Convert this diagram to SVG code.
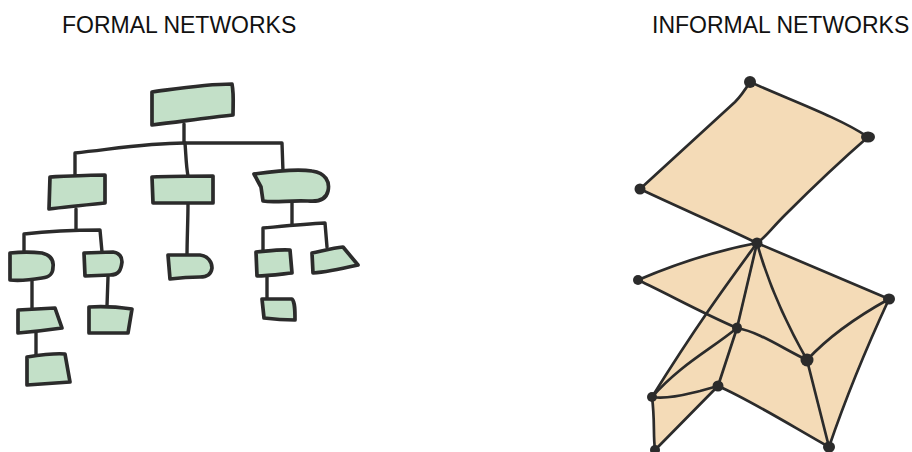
<svg xmlns="http://www.w3.org/2000/svg" width="912" height="452" viewBox="0 0 912 452">
<style>
.title{font-family:"Liberation Sans",Arial,sans-serif;font-size:23px;fill:#111}
.box{fill:#c3e0c8;stroke:#2b2b2b;stroke-width:3.7;stroke-linejoin:round;stroke-linecap:round}
.tree{fill:none;stroke:#2b2b2b;stroke-width:3.4;stroke-linejoin:round;stroke-linecap:round}
.face{fill:#f4dbb7;stroke:none}
.edge{fill:none;stroke:#2b2b2b;stroke-width:2.7;stroke-linecap:round;stroke-linejoin:round}
.dot{fill:#2b2b2b}
</style>
<rect width="912" height="452" fill="#ffffff"/>
<text class="title" x="62" y="33">FORMAL NETWORKS</text>
<text class="title" x="652" y="33">INFORMAL NETWORKS</text>

<g id="formal-connectors">
<path class="tree" d="M184,124 L184,143"/>
<path class="tree" d="M75,176 L75,153 C120,148 150,143 184,143 L282,143 L283,172"/>
<path class="tree" d="M185,143 C186,155 186,165 188,176"/>
<path class="tree" d="M76,209 L76,229"/>
<path class="tree" d="M24,253 L24,234 C50,231 75,230 100,230 L102,252"/>
<path class="tree" d="M188,203 C188,220 187,240 187,257"/>
<path class="tree" d="M292,202 L292,224"/>
<path class="tree" d="M263,251 L263,228 C285,226 305,224 325,223 L327,247"/>
<path class="tree" d="M32,280 L32,308"/>
<path class="tree" d="M108,277 L107,306"/>
<path class="tree" d="M267,276 L267,298"/>
<path class="tree" d="M36,333 L36,355"/>
</g>

<g id="f-root"><path class="box" d="M152,92 C175,89 205,84 232,84 C234,94 233,105 233,115 C205,118 178,122 152,125 Z"/></g>
<g id="f-l1"><path class="box" d="M50,177 C70,176 88,175 105,175 L105,203 C85,205 65,207 49,209 Z"/></g>
<g id="f-m1"><path class="box" d="M152,177 C172,176 195,176 213,176 L213,203 L153,203 Z"/></g>
<g id="f-r1"><path class="box" d="M254,174 C275,171 300,169 312,171 C326,173 330,182 328,191 C326,200 318,202 308,201 C290,200 275,203 263,201 L261,187 Z"/></g>
<g id="f-a"><path class="box" d="M10,253 C20,252 33,252 42,253 C50,255 54,260 53,267 C53,274 50,277 42,278 C30,280 20,281 10,280 Z"/></g>
<g id="f-b"><path class="box" d="M84,253 L113,252 C120,253 122,257 122,262 C121,270 119,275 110,275 L85,276 Z"/></g>
<g id="f-c"><path class="box" d="M168,255 L200,255 C208,256 212,262 212,268 C211,275 207,277 200,277 C190,277 178,278 170,279 Z"/></g>
<g id="f-d"><path class="box" d="M256,252 C268,251 280,249 290,250 L292,273 C282,274 268,276 257,276 Z"/></g>
<g id="f-e"><path class="box" d="M312,253 C322,251 333,248 343,247 L358,265 C345,268 328,272 313,273 Z"/></g>
<g id="f-a2"><path class="box" d="M18,310 L55,308 L62,328 C48,330 30,332 18,333 Z"/></g>
<g id="f-b2"><path class="box" d="M89,307 C102,306 118,307 132,309 L128,333 L89,333 Z"/></g>
<g id="f-d2"><path class="box" d="M262,299 L292,299 C295,302 295,310 295,320 C285,320 272,319 264,318 Z"/></g>
<g id="f-a3"><path class="box" d="M27,357 C40,355 55,353 65,354 L70,382 C55,383 40,384 27,385 Z"/></g>

<g id="informal-faces">
<path class="face" d="M750,82 C790,100 840,118 868,137 C830,170 800,200 785,215 C770,230 765,238 757,243 C720,225 680,208 640,189 L735,102 Z"/>
<path class="face" d="M757,243 L889,299 C870,340 845,400 829,447 C790,425 750,400 718,386 L655,450 C653,435 655,420 652,397 C700,320 730,280 757,243 Z"/>
<path class="face" d="M757,243 C720,250 680,262 638,280 C670,295 700,312 737,328 Z"/>
</g>

<g id="informal-connectors">
<path class="edge" d="M750,82 C790,100 840,118 868,137"/>
<path class="edge" d="M868,137 C830,170 800,200 785,215 C770,230 765,238 757,243"/>
<path class="edge" d="M757,243 C720,225 680,208 640,189"/>
<path class="edge" d="M750,82 C745,90 740,97 735,102 L640,189"/>
<path class="edge" d="M757,243 C720,250 680,262 638,280"/>
<path class="edge" d="M638,280 C670,295 700,312 737,328"/>
<path class="edge" d="M737,328 C760,332 785,350 807,360"/>
<path class="edge" d="M757,243 L889,299"/>
<path class="edge" d="M757,243 L737,328"/>
<path class="edge" d="M737,328 L718,386"/>
<path class="edge" d="M757,243 C770,290 790,330 807,360"/>
<path class="edge" d="M757,243 C730,280 700,320 652,397"/>
<path class="edge" d="M737,328 C710,350 680,365 652,397"/>
<path class="edge" d="M652,397 C670,400 690,393 700,391 L718,386"/>
<path class="edge" d="M718,386 L655,450"/>
<path class="edge" d="M652,397 C655,420 653,435 655,450"/>
<path class="edge" d="M718,386 C750,400 790,425 829,447"/>
<path class="edge" d="M807,360 L829,447"/>
<path class="edge" d="M889,299 C860,315 830,335 807,360"/>
<path class="edge" d="M889,299 C870,340 845,400 829,447"/>
</g>

<g id="n-a"><ellipse class="dot" cx="750" cy="82" rx="6" ry="6"/></g>
<g id="n-b"><ellipse class="dot" cx="868" cy="137" rx="7" ry="5.5"/></g>
<g id="n-c"><ellipse class="dot" cx="640" cy="189" rx="5.5" ry="5.5"/></g>
<g id="n-d"><ellipse class="dot" cx="757" cy="243" rx="5.5" ry="5.5"/></g>
<g id="n-e"><ellipse class="dot" cx="638" cy="280" rx="5" ry="5"/></g>
<g id="n-f"><ellipse class="dot" cx="889" cy="299" rx="6" ry="5.5"/></g>
<g id="n-g"><ellipse class="dot" cx="737" cy="328" rx="5" ry="5.5"/></g>
<g id="n-h"><ellipse class="dot" cx="807" cy="360" rx="6.5" ry="6.5"/></g>
<g id="n-i"><ellipse class="dot" cx="718" cy="386" rx="5.5" ry="5.5"/></g>
<g id="n-j"><ellipse class="dot" cx="652" cy="397" rx="5" ry="5"/></g>
<g id="n-k"><ellipse class="dot" cx="655" cy="450" rx="5" ry="5"/></g>
<g id="n-l"><ellipse class="dot" cx="829" cy="447" rx="6" ry="5.5"/></g>
</svg>
